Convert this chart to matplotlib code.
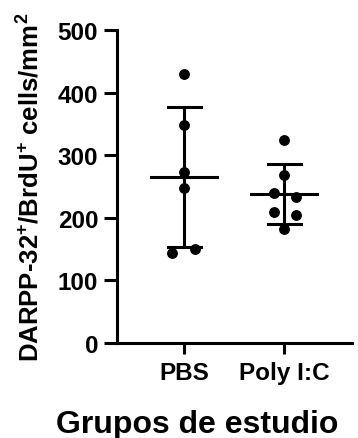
import numpy as np
import matplotlib
matplotlib.use("Agg")
import matplotlib.pyplot as plt

# datos
grupos = ["PBS", "Poly I:C"]
pbs = [430, 348, 273, 248, 144, 150]
polyic = [325, 269, 240, 233, 210, 205, 182]
# desplazamiento horizontal de los puntos (para que no se solapen)
jitter_pbs = [0, 0, 0, 0, -0.12, 0.11]
jitter_poly = [0, 0, -0.10, 0.12, -0.10, 0.12, 0]

plt.rcParams["font.family"] = ["Liberation Sans", "DejaVu Sans"]
plt.rcParams["font.weight"] = "bold"
plt.rcParams["axes.labelweight"] = "bold"
plt.rcParams["mathtext.fontset"] = "custom"
plt.rcParams["mathtext.rm"] = "Liberation Sans:bold"
plt.rcParams["mathtext.bf"] = "Liberation Sans:bold"
plt.rcParams["mathtext.it"] = "Liberation Sans:bold"

fig = plt.figure(figsize=(3.58, 4.39), dpi=100)
ax = fig.add_axes([117 / 358, 95 / 439, 235 / 358, 313 / 439])

lw = 2.2
for i, (vals, jit) in enumerate([(pbs, jitter_pbs), (polyic, jitter_poly)]):
    x = i + 1
    v = np.array(vals, dtype=float)
    m = v.mean()
    sd = v.std(ddof=1)
    ax.plot([x - 0.33, x + 0.33], [m, m], color="black", lw=lw, zorder=2)
    ax.plot([x, x], [m - sd, m + sd], color="black", lw=lw, zorder=2)
    for yy in (m - sd, m + sd):
        ax.plot([x - 0.165, x + 0.165], [yy, yy], color="black", lw=lw, zorder=2)
    ax.plot(x + np.array(jit), v, "o", color="black", ms=6.8, zorder=3)

ax.set_xlim(0.33, 2.68)
ax.set_ylim(0, 500)
ax.set_yticks([0, 100, 200, 300, 400, 500])
ax.set_xticks([1, 2])
ax.set_xticklabels(grupos)

for s in ["top", "right"]:
    ax.spines[s].set_visible(False)
for s in ["left", "bottom"]:
    ax.spines[s].set_linewidth(lw)

ax.tick_params(axis="y", length=9.5, width=lw, labelsize=17.5, pad=4)
ax.tick_params(axis="x", length=8, width=lw, labelsize=17.5, pad=5)

ax.set_ylabel(r"DARPP-32$^{+}$/BrdU$^{+}$ cells/mm$^{2}$", fontsize=18.5, fontweight="bold", labelpad=10)
ax.set_xlabel("Grupos de estudio", fontsize=23, fontweight="bold")
ax.xaxis.set_label_coords((197 - 117) / 235, -0.21)

fig.savefig("out.png", dpi=100)
